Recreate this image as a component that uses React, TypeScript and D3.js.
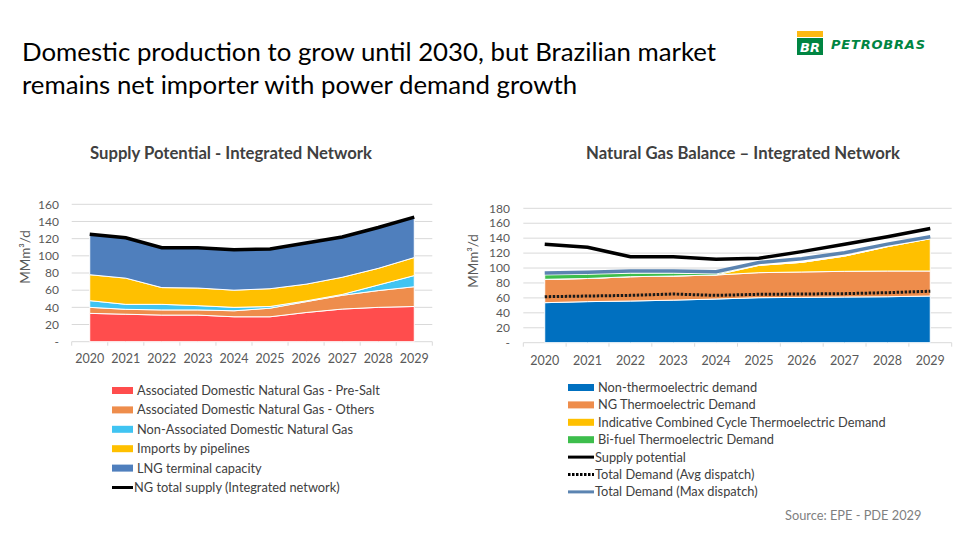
import React from "react";
import * as d3 from "d3";

const years = ["2020","2021","2022","2023","2024","2025","2026","2027","2028","2029"];

// Left chart: Supply potential (MMm³/d), layer values
const preSalt = [33, 32, 31, 31, 29, 29, 34, 38, 40, 41];
const othersAssoc = [7, 5.7, 6, 6, 7, 10, 12.6, 16, 19.5, 23];
const nonAssoc = [7.8, 5.8, 6.5, 5, 4, 2, 0.9, 1, 6.5, 13];
const pipelines = [30.2, 30.5, 19.5, 20.5, 20, 20.7, 19.5, 20, 19.4, 21];
const lngCapacity = [47, 47, 46.5, 47, 47, 46.3, 48, 47, 47.6, 47];
const totalSupply = [125, 121, 109.5, 109.5, 107, 108, 115, 122, 133, 145];
const leftTicks = [0, 20, 40, 60, 80, 100, 120, 140, 160];

// Right chart: Natural gas balance (MMm³/d)
const nonThermo = [53.6, 55, 55.8, 57, 58.5, 60.3, 60.7, 61.2, 61.6, 62.5];
const ngThermo = [31.3, 31, 32.6, 32.3, 32.2, 33.5, 34, 34.4, 34.4, 33.5];
const combinedCycle = [0, 0, 0, 0, 0, 9.8, 12.9, 20.4, 32.6, 43.3];
const biFuel = [5.8, 5.6, 4.6, 3.7, 1.5, 0, 0, 0, 0, 0];
const supplyPotential = [131.8, 127.7, 115, 115, 111.7, 113, 122, 131.8, 142, 153];
const avgDispatch = [61.6, 62.5, 63.4, 65.2, 63.4, 64.8, 65.2, 65.7, 67, 69];
const maxDispatch = [93.5, 94.5, 96, 96, 95, 107.5, 112.5, 120.5, 132, 142];
const rightTicks = [0, 20, 40, 60, 80, 100, 120, 140, 160, 180];

const leftSeries = [
  { name: "Associated Domestic Natural Gas - Pre-Salt", values: preSalt, color: "#ff4d4d" },
  { name: "Associated Domestic Natural Gas - Others", values: othersAssoc, color: "#ee8d4c" },
  { name: "Non-Associated Domestic Natural Gas", values: nonAssoc, color: "#40c4f2" },
  { name: "Imports by pipelines", values: pipelines, color: "#ffc000" },
  { name: "LNG terminal capacity", values: lngCapacity, color: "#4f7fbd" },
];
const rightSeries = [
  { name: "Non-thermoelectric demand", values: nonThermo, color: "#0070c0" },
  { name: "NG Thermoelectric Demand", values: ngThermo, color: "#ee8d4c" },
  { name: "Indicative Combined Cycle Thermoelectric Demand", values: combinedCycle, color: "#ffc000" },
  { name: "Bi-fuel Thermoelectric Demand", values: biFuel, color: "#3dbe4c" },
];

const FONT = "Lato, 'Open Sans', sans-serif";
const TICK_COLOR = "#595959";
const TEXT_COLOR = "#404040";

type Series = { name: string; values: number[]; color: string };

function StackChart(props: {
  series: Series[];
  x0: number; x1: number; y0: number; y1: number; max: number; ticks: number[];
  labelX: number; yLabelRight: number; xLabelY: number; titleX: number; titleY: number;
  lines: { values: number[]; color: string; width: number; dash?: string }[];
}) {
  const { series, x0, x1, y0, y1, max, ticks, lines } = props;
  const x = d3.scaleBand<string>().domain(years).range([x0, x1]);
  const y = d3.scaleLinear().domain([0, max]).range([y0, y1]);
  const cx = (yr: string) => (x(yr) as number) + x.bandwidth() / 2;
  const rows = years.map((yr, i) => {
    const r: any = { year: yr };
    series.forEach((s, k) => (r["s" + k] = s.values[i]));
    return r;
  });
  const stacked = d3.stack<any>().keys(series.map((_, k) => "s" + k))(rows);
  const area = d3.area<any>()
    .x((d) => cx(d.data.year))
    .y0((d) => y(d[0]))
    .y1((d) => y(d[1]));
  const line = d3.line<number>().x((_, i) => cx(years[i])).y((d) => y(d));
  const edges = [x0, ...years.map((yr) => (x(yr) as number) + x.bandwidth())];
  return (
    <g>
      {ticks.map((t) => (
        <g key={t}>
          {t > 0 && <line x1={x0} x2={x1} y1={y(t)} y2={y(t)} stroke="#d9d9d9" strokeWidth={1} />}
          <text x={props.yLabelRight} y={y(t)} dy="0.35em" textAnchor="end" fontSize={12} fill={TICK_COLOR} fontFamily={FONT}>
            {t === 0 ? "-" : t}
          </text>
        </g>
      ))}
      <line x1={x0} x2={x1} y1={y0} y2={y0} stroke="#d9d9d9" strokeWidth={1} />
      {edges.map((e, i) => (
        <line key={i} x1={e} x2={e} y1={y0} y2={y0 + 4} stroke="#d9d9d9" strokeWidth={1} />
      ))}
      {stacked.map((layer, k) => (
        <path key={k} d={area(layer) || ""} fill={series[k].color} stroke="#ffffff" strokeWidth={1} />
      ))}
      {lines.map((l, k) => (
        <path key={k} d={line(l.values) || ""} fill="none" stroke={l.color} strokeWidth={l.width} strokeDasharray={l.dash} />
      ))}
      {years.map((yr) => (
        <text key={yr} x={cx(yr)} y={props.xLabelY} dy="0.35em" textAnchor="middle" fontSize={12.5} fill={TICK_COLOR} fontFamily={FONT}>
          {yr}
        </text>
      ))}
      <text transform={`translate(${props.labelX},${props.titleY}) rotate(-90)`} textAnchor="middle" dy="0.35em" fontSize={13.5} fill={TICK_COLOR} fontFamily={FONT}>
        MMm³/d
      </text>
    </g>
  );
}

function Legend(props: { x: number; y: number; step: number; boxW: number; items: { name: string; color: string; kind: "box" | "line" | "dot" }[] }) {
  return (
    <g>
      {props.items.map((it, i) => {
        const yy = props.y + i * props.step;
        return (
          <g key={i}>
            {it.kind === "box" && <rect x={props.x} y={yy - 3.5} width={props.boxW} height={7} fill={it.color} />}
            {it.kind === "line" && <line x1={props.x} x2={props.x + props.boxW} y1={yy} y2={yy} stroke={it.color} strokeWidth={3} />}
            {it.kind === "dot" && <line x1={props.x} x2={props.x + props.boxW} y1={yy} y2={yy} stroke={it.color} strokeWidth={3} strokeDasharray="2.5 1.5" />}
            <text x={props.x + props.boxW + (it.kind === "box" ? 4 : 1)} y={yy} dy="0.35em" fontSize={12.8} fill={TEXT_COLOR} fontFamily={FONT}>
              {it.name}
            </text>
          </g>
        );
      })}
    </g>
  );
}

export default function App() {
  return (
    <svg width={960} height={540} style={{ position: "absolute", left: 0, top: 0, background: "#fff" }}>
      <rect width={960} height={540} fill="#fff" />
      <text x={22} y={61} fontSize={25.8} fill="#000" fontFamily={FONT}>
        Domestic production to grow until 2030, but Brazilian market
      </text>
      <text x={22} y={94} fontSize={25.8} fill="#000" fontFamily={FONT}>
        remains net importer with power demand growth
      </text>

      {/* Petrobras logo */}
      <rect x={797} y={31} width={26} height={6} fill="#fdb913" />
      <rect x={797} y={38} width={26} height={17} fill="#008542" />
      <text x={810} y={51.5} textAnchor="middle" fontSize={13} fontWeight="bold" fontStyle="italic" fill="#fff" fontFamily="'DejaVu Sans', sans-serif">BR</text>
      <text x={831} y={49} fontSize={13} fontWeight="bold" fontStyle="italic" fill="#008542" fontFamily="'DejaVu Sans', sans-serif" letterSpacing={0.8}>PETROBRAS</text>

      <text x={231} y={153} dy="0.35em" textAnchor="middle" fontSize={16.7} fontWeight="bold" fill={TEXT_COLOR} fontFamily={FONT}>
        Supply Potential - Integrated Network
      </text>
      <text x={743} y={153} dy="0.35em" textAnchor="middle" fontSize={16.7} fontWeight="bold" fill={TEXT_COLOR} fontFamily={FONT}>
        Natural Gas Balance – Integrated Network
      </text>

      <StackChart
        series={leftSeries}
        x0={71.7} x1={432.3} y0={341.7} y1={204.3} max={160} ticks={leftTicks}
        labelX={25} yLabelRight={59} xLabelY={359} titleX={25} titleY={257}
        lines={[{ values: totalSupply, color: "#000", width: 3.5 }]}
      />
      <StackChart
        series={rightSeries}
        x0={523.3} x1={951.7} y0={342.7} y1={208.3} max={180} ticks={rightTicks}
        labelX={473} yLabelRight={510} xLabelY={361} titleX={473} titleY={261}
        lines={[
          { values: maxDispatch, color: "#5b84b1", width: 3.5 },
          { values: supplyPotential, color: "#000", width: 3.5 },
          { values: avgDispatch, color: "#1a1a1a", width: 3, dash: "2.5 1.5" },
        ]}
      />

      <Legend
        x={112} y={390.5} step={19.4} boxW={21}
        items={[
          ...leftSeries.map((s) => ({ name: s.name, color: s.color, kind: "box" as const })),
          { name: "NG total supply (Integrated network)", color: "#000", kind: "line" as const },
        ]}
      />
      <Legend
        x={568} y={387.5} step={17.4} boxW={26}
        items={[
          ...rightSeries.map((s) => ({ name: s.name, color: s.color, kind: "box" as const })),
          { name: "Supply potential", color: "#000", kind: "line" as const },
          { name: "Total Demand (Avg dispatch)", color: "#000", kind: "dot" as const },
          { name: "Total Demand (Max dispatch)", color: "#5b84b1", kind: "line" as const },
        ]}
      />

      <text x={785} y={516} dy="0.35em" fontSize={12.8} fill="#7f7f7f" fontFamily={FONT}>
        Source: EPE - PDE 2029
      </text>
    </svg>
  );
}
